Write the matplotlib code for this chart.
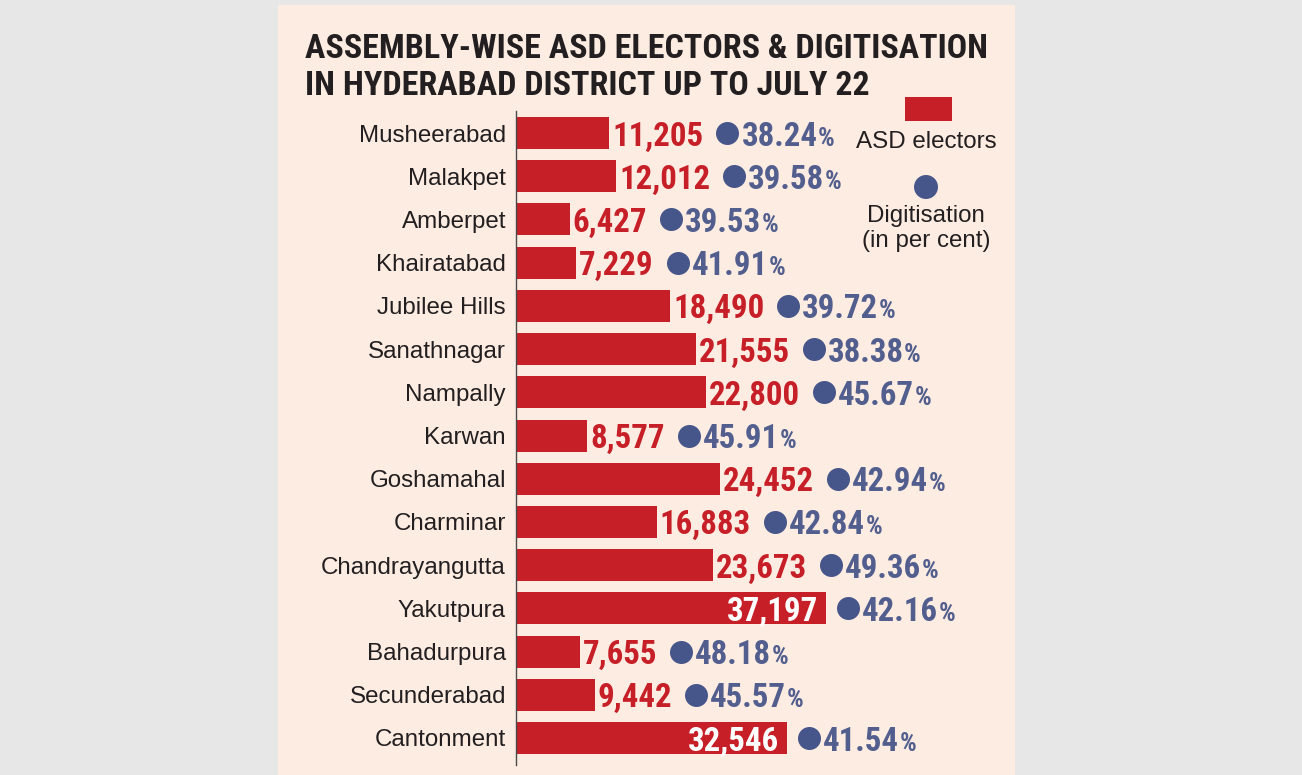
import math
import matplotlib
matplotlib.use('Agg')
import matplotlib.pyplot as plt
from matplotlib import font_manager as fm
from matplotlib.font_manager import FontProperties
from matplotlib.textpath import TextPath
from matplotlib.patches import Rectangle, Ellipse
from matplotlib.transforms import offset_copy

# ---------------- data ----------------
constituencies = ["Musheerabad", "Malakpet", "Amberpet", "Khairatabad", "Jubilee Hills",
                  "Sanathnagar", "Nampally", "Karwan", "Goshamahal", "Charminar",
                  "Chandrayangutta", "Yakutpura", "Bahadurpura", "Secunderabad", "Cantonment"]
asd_electors = [11205, 12012, 6427, 7229, 18490, 21555, 22800, 8577, 24452, 16883,
                23673, 37197, 7655, 9442, 32546]
digitisation = [38.24, 39.58, 39.53, 41.91, 39.72, 38.38, 45.67, 45.91, 42.94, 42.84,
                49.36, 42.16, 48.18, 45.57, 41.54]
title_lines = ["ASSEMBLY-WISE ASD ELECTORS & DIGITISATION",
               "IN HYDERABAD DISTRICT UP TO JULY 22"]
legend_bar_label = "ASD electors"
legend_dot_label = ["Digitisation", "(in per cent)"]

# ---------------- style ----------------
W, H, DPI = 1302, 775, 100
RED = '#c71f27'
NAVY = '#46558a'
PCT = '#525e8e'
INK = '#231f20'
PANEL = '#fdece2'
OUTER = '#e7e7e7'

ttf = fm.fontManager.ttflist
names = {f.name for f in ttf}


def bold_available(name, stretch=None):
    for f in ttf:
        if f.name == name and (f.weight in ('bold', 700, 'heavy', 800, 'black', 900, 600, 'semibold', 'demibold')
                               or (isinstance(f.weight, int) and f.weight >= 600)):
            if stretch is None or str(f.stretch) in stretch:
                return True
    return False


COND = None
for fam in ['Liberation Sans Narrow', 'Roboto Condensed', 'Open Sans Condensed',
            'Noto Sans Condensed', 'DejaVu Sans Condensed']:
    if fam in names and bold_available(fam):
        COND = {'family': fam}
        break
if COND is None:
    if bold_available('DejaVu Sans', stretch=('condensed', 'semi-condensed')):
        COND = {'family': 'DejaVu Sans', 'stretch': 'condensed'}
    elif bold_available('Noto Sans', stretch=('condensed', 'semi-condensed', 'extra-condensed')):
        COND = {'family': 'Noto Sans', 'stretch': 'condensed'}
    else:
        COND = {'family': 'DejaVu Sans'}
REG = 'Liberation Sans' if 'Liberation Sans' in names else 'DejaVu Sans'

fig = plt.figure(figsize=(W / DPI, H / DPI), dpi=DPI)
fig.patch.set_facecolor(OUTER)
fig.add_artist(Rectangle((278 / W, 0), (1015 - 278) / W, (775 - 5) / H,
                         transform=fig.transFigure, facecolor=PANEL, edgecolor='none', zorder=0))

ax = fig.add_axes([516 / W, 1 - 765 / H, (1000 - 516) / W, (765 - 111) / H])
ax.patch.set_alpha(0)
n = len(constituencies)
ypos = list(range(n))
ax.barh(ypos, asd_electors, height=0.74, color=RED, zorder=2)
ax.set_xlim(0, 58100)
ax.set_ylim(n - 1 + 0.625, -0.51)
for s in ['top', 'right', 'bottom']:
    ax.spines[s].set_visible(False)
ax.spines['left'].set_color('#4a4a4a')
ax.spines['left'].set_linewidth(1.0)
ax.set_xticks([])
ax.set_yticks(ypos)
ax.set_yticklabels(constituencies, family=REG, fontsize=17.4, color=INK)
ax.tick_params(axis='y', length=0, pad=7.2)

renderer = fig.canvas.get_renderer()


def fit_size(text, target_px, base=26, **kw):
    t = fig.text(0, 0, text, fontsize=base, **kw)
    w = t.get_window_extent(renderer).width
    t.remove()
    return base * target_px / w


def cap_ratio(ch, **kw):
    fp = FontProperties(**kw)
    return TextPath((0, 0), ch, size=100, prop=fp).get_extents().height / 100.0


digit_cap = cap_ratio('0', weight='bold', **COND)
letter_cap = cap_ratio('H', weight='bold', **COND)

w_fit = fit_size("11,205", 83, weight='bold', **COND)
h_fit = 26.5 / digit_cap * 0.72
VAL_SIZE = math.sqrt(w_fit * h_fit)
PCT_SIZE = VAL_SIZE
SIGN_SIZE = VAL_SIZE * 0.8
cap_px = digit_cap * VAL_SIZE / 0.72
BASE_DY = -(cap_px / 2 + 0.5)

inside_threshold = 30000
for i, (v, p) in enumerate(zip(asd_electors, digitisation)):
    bx, by = ax.transData.transform((v, i))
    lab = f"{v:,}"
    if v > inside_threshold:
        tr = offset_copy(ax.transData, fig=fig, x=-8, y=BASE_DY, units='dots')
        ax.text(v, i, lab, transform=tr, ha='right', va='baseline', color='white',
                fontsize=VAL_SIZE, weight='bold', zorder=3, **COND)
        dot_px = bx + 22
    else:
        tr = offset_copy(ax.transData, fig=fig, x=3, y=BASE_DY, units='dots')
        t = ax.text(v, i, lab, transform=tr, ha='left', va='baseline', color=RED,
                    fontsize=VAL_SIZE, weight='bold', zorder=3, **COND)
        ext = t.get_window_extent(renderer)
        dot_px = ext.x1 + 24
    dx, _ = ax.transData.inverted().transform((dot_px, by))
    ax.scatter([dx], [i], s=(23 * 0.72) ** 2, color=NAVY, zorder=3, clip_on=False, linewidths=0)
    tr2 = offset_copy(ax.transData, fig=fig, x=14, y=BASE_DY, units='dots')
    t2 = ax.text(dx, i, f"{p:.2f}", transform=tr2, ha='left', va='baseline', color=PCT,
                 fontsize=PCT_SIZE, weight='bold', zorder=3, clip_on=False, **COND)
    e2 = t2.get_window_extent(renderer)
    sx, _ = ax.transData.inverted().transform((e2.x1 + 0.5, by))
    tr3 = offset_copy(ax.transData, fig=fig, x=0, y=BASE_DY, units='dots')
    ax.text(sx, i, "%", transform=tr3, ha='left', va='baseline', color=PCT,
            fontsize=SIGN_SIZE, weight='bold', zorder=3, clip_on=False, **COND)

# title
t_wfit = fit_size(title_lines[0], 675, base=27, weight='bold', **COND)
t_wmax = fit_size(title_lines[0], 682, base=27, weight='bold', **COND)
t_hfit = 27 / letter_cap * 0.72
TITLE_SIZE = min(t_wmax, math.sqrt(t_wfit * t_hfit))
fig.text(305 / W, 1 - 58 / H, title_lines[0], ha='left', va='baseline', color=INK,
         fontsize=TITLE_SIZE, weight='bold', **COND)
fig.text(305 / W, 1 - 95 / H, title_lines[1], ha='left', va='baseline', color=INK,
         fontsize=TITLE_SIZE, weight='bold', **COND)

# legend
fig.add_artist(Rectangle((905 / W, 1 - 121 / H), 47 / W, 24 / H, transform=fig.transFigure,
                         facecolor=RED, edgecolor='none', zorder=3))
fig.text(926 / W, 1 - 148 / H, legend_bar_label, ha='center', va='baseline', family=REG,
         fontsize=17.4, color=INK)
fig.add_artist(Ellipse((926 / W, 1 - 187 / H), 24 / W, 24 / H, transform=fig.transFigure,
                       facecolor=NAVY, edgecolor='none', zorder=3))
fig.text(926 / W, 1 - 222 / H, legend_dot_label[0], ha='center', va='baseline', family=REG,
         fontsize=17.4, color=INK)
fig.text(926 / W, 1 - 247 / H, legend_dot_label[1], ha='center', va='baseline', family=REG,
         fontsize=17.4, color=INK)

fig.savefig('out.png', dpi=DPI, facecolor=fig.get_facecolor())
